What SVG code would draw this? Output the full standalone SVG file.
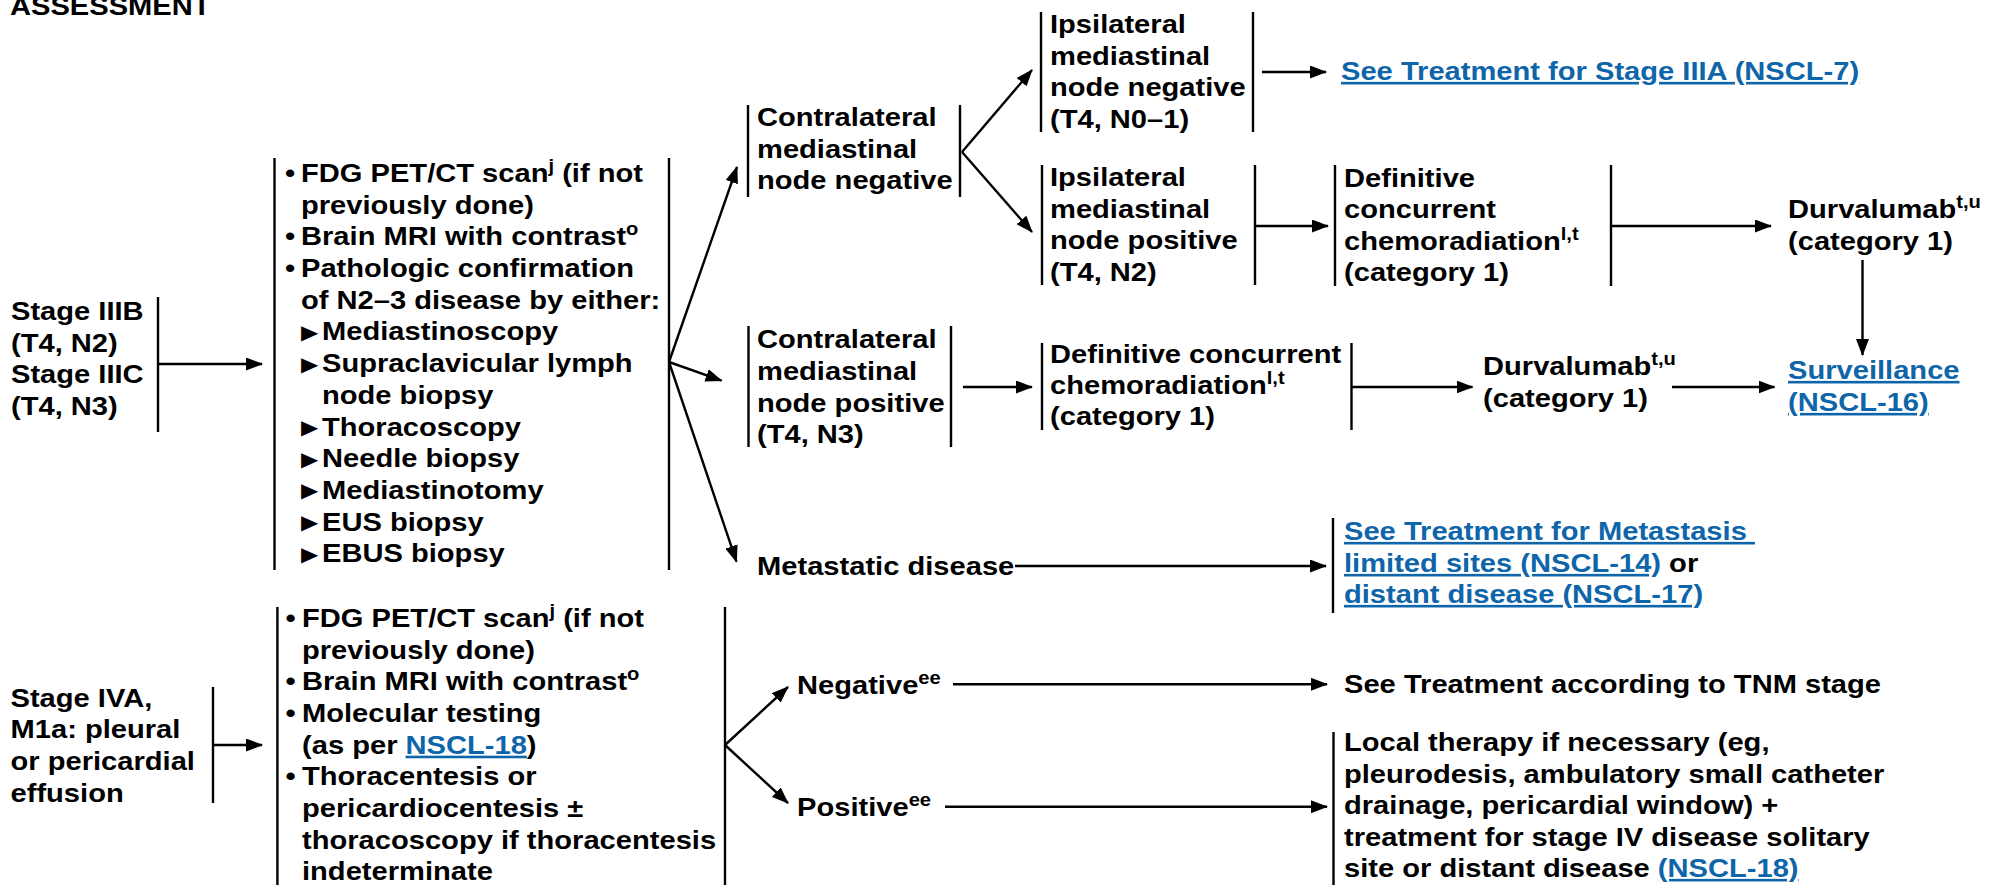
<svg xmlns="http://www.w3.org/2000/svg" width="1990" height="885" viewBox="0 0 1990 885">
<style>
.t{font-family:"Liberation Sans",Arial,Helvetica,sans-serif;font-weight:bold;font-size:26px;fill:#000}
.lk{fill:#0e65a9;text-decoration:underline}
.sup{font-size:18px}
.tri{font-family:"DejaVu Sans",sans-serif;font-size:20px}
.br{stroke:#000;stroke-width:2.4;fill:none}
.cn{stroke:#000;stroke-width:2.4;fill:none;marker-end:url(#ah)}
</style>
<defs>
<marker id="ah" markerUnits="userSpaceOnUse" markerWidth="17" markerHeight="13" refX="16" refY="6.5" orient="auto">
<path d="M0,0 L17,6.5 L0,13 z" fill="#000"/>
</marker>
</defs>
<rect width="1990" height="885" fill="#fff"/>

<g id="header">
<text class="t" transform="translate(10 0) scale(1.12 1)"><tspan x="0" y="15">ASSESSMENT</tspan></text>
</g>

<g id="stage3">
<text class="t" transform="translate(11 0) scale(1.12 1)"><tspan x="0" y="320">Stage IIIB</tspan><tspan x="0" y="351.7">(T4, N2)</tspan><tspan x="0" y="383.4">Stage IIIC</tspan><tspan x="0" y="415">(T4, N3)</tspan></text>
<line class="br" x1="158" y1="297" x2="158" y2="432"/>
</g>

<g id="workup1">
<line class="br" x1="274.5" y1="158" x2="274.5" y2="570"/>
<line class="br" x1="669" y1="158" x2="669" y2="570"/>
<text class="t" transform="translate(301 0) scale(1.12 1)">
<tspan x="-14.3" y="182">•</tspan><tspan x="0">FDG PET/CT scan</tspan><tspan class="sup" dy="-10">j</tspan><tspan dy="10"> (if not</tspan>
<tspan x="0" y="213.7">previously done)</tspan>
<tspan x="-14.3" y="245.4">•</tspan><tspan x="0">Brain MRI with contrast</tspan><tspan class="sup" dy="-10">o</tspan>
<tspan x="-14.3" y="277">•</tspan><tspan x="0">Pathologic confirmation</tspan>
<tspan x="0" y="308.8">of N2–3 disease by either:</tspan>
<tspan x="0" y="339" class="tri">▶</tspan><tspan x="18.75" y="340.5">Mediastinoscopy</tspan>
<tspan x="0" y="370.7" class="tri">▶</tspan><tspan x="18.75" y="372.2">Supraclavicular lymph</tspan>
<tspan x="18.75" y="404">node biopsy</tspan>
<tspan x="0" y="434.1" class="tri">▶</tspan><tspan x="18.75" y="435.6">Thoracoscopy</tspan>
<tspan x="0" y="465.8" class="tri">▶</tspan><tspan x="18.75" y="467.3">Needle biopsy</tspan>
<tspan x="0" y="497.5" class="tri">▶</tspan><tspan x="18.75" y="499">Mediastinotomy</tspan>
<tspan x="0" y="529.2" class="tri">▶</tspan><tspan x="18.75" y="530.7">EUS biopsy</tspan>
<tspan x="0" y="560.9" class="tri">▶</tspan><tspan x="18.75" y="562.4">EBUS biopsy</tspan>
</text>
</g>

<g id="cmnn">
<line class="br" x1="748" y1="105" x2="748" y2="197"/>
<line class="br" x1="960" y1="105" x2="960" y2="197"/>
<text class="t" transform="translate(757 0) scale(1.12 1)"><tspan x="0" y="126">Contralateral</tspan><tspan x="0" y="157.7">mediastinal</tspan><tspan x="0" y="189.4">node negative</tspan></text>
</g>

<g id="imnn">
<line class="br" x1="1041" y1="12" x2="1041" y2="132"/>
<line class="br" x1="1253" y1="12" x2="1253" y2="132"/>
<text class="t" transform="translate(1050 0) scale(1.12 1)"><tspan x="0" y="33">Ipsilateral</tspan><tspan x="0" y="64.7">mediastinal</tspan><tspan x="0" y="96.4">node negative</tspan><tspan x="0" y="128">(T4, N0–1)</tspan></text>
</g>

<g id="stage3a">
<text class="t lk" transform="translate(1341 0) scale(1.12 1)"><tspan x="0" y="80">See Treatment for Stage IIIA (NSCL-7)</tspan></text>
</g>

<g id="imnp">
<line class="br" x1="1042" y1="165" x2="1042" y2="285"/>
<line class="br" x1="1255" y1="165" x2="1255" y2="285"/>
<text class="t" transform="translate(1050 0) scale(1.12 1)"><tspan x="0" y="186.5">Ipsilateral</tspan><tspan x="0" y="218">mediastinal</tspan><tspan x="0" y="249.5">node positive</tspan><tspan x="0" y="281">(T4, N2)</tspan></text>
</g>

<g id="dcc1">
<line class="br" x1="1335" y1="165" x2="1335" y2="286"/>
<line class="br" x1="1611" y1="165" x2="1611" y2="286"/>
<text class="t" transform="translate(1344 0) scale(1.12 1)"><tspan x="0" y="187">Definitive</tspan><tspan x="0" y="218.5">concurrent</tspan><tspan x="0" y="250">chemoradiation</tspan><tspan class="sup" dy="-10">l,t</tspan><tspan x="0" y="281">(category 1)</tspan></text>
</g>

<g id="durva1">
<text class="t" transform="translate(1788 0) scale(1.12 1)"><tspan x="0" y="218">Durvalumab</tspan><tspan class="sup" dy="-10">t,u</tspan><tspan x="0" y="250">(category 1)</tspan></text>
</g>

<g id="cmnp">
<line class="br" x1="748.5" y1="326" x2="748.5" y2="447"/>
<line class="br" x1="951" y1="326" x2="951" y2="447"/>
<text class="t" transform="translate(757 0) scale(1.12 1)"><tspan x="0" y="348">Contralateral</tspan><tspan x="0" y="380">mediastinal</tspan><tspan x="0" y="412">node positive</tspan><tspan x="0" y="443">(T4, N3)</tspan></text>
</g>

<g id="dcc2">
<line class="br" x1="1042" y1="343" x2="1042" y2="430"/>
<line class="br" x1="1351.5" y1="343" x2="1351.5" y2="430"/>
<text class="t" transform="translate(1050 0) scale(1.12 1)"><tspan x="0" y="363">Definitive concurrent</tspan><tspan x="0" y="394">chemoradiation</tspan><tspan class="sup" dy="-10">l,t</tspan><tspan x="0" y="425">(category 1)</tspan></text>
</g>

<g id="durva2">
<text class="t" transform="translate(1483 0) scale(1.12 1)"><tspan x="0" y="375">Durvalumab</tspan><tspan class="sup" dy="-10">t,u</tspan><tspan x="0" y="407">(category 1)</tspan></text>
</g>

<g id="surveillance">
<text class="t lk" transform="translate(1788 0) scale(1.12 1)"><tspan x="0" y="379">Surveillance</tspan><tspan x="0" y="411">(NSCL-16)</tspan></text>
</g>

<g id="metastatic">
<text class="t" transform="translate(757 0) scale(1.12 1)"><tspan x="0" y="575">Metastatic disease</tspan></text>
</g>

<g id="metatx">
<line class="br" x1="1333" y1="518" x2="1333" y2="613"/>
<text class="t" transform="translate(1344 0) scale(1.12 1)"><tspan x="0" y="540" class="lk">See Treatment for Metastasis </tspan><tspan x="0" y="572" class="lk">limited sites (NSCL-14)</tspan><tspan> or</tspan><tspan x="0" y="603" class="lk">distant disease (NSCL-17)</tspan></text>
</g>

<g id="stage4a">
<text class="t" transform="translate(10.5 0) scale(1.12 1)"><tspan x="0" y="707">Stage IVA,</tspan><tspan x="0" y="738.5">M1a: pleural</tspan><tspan x="0" y="770">or pericardial</tspan><tspan x="0" y="801.7">effusion</tspan></text>
<line class="br" x1="213" y1="687" x2="213" y2="803"/>
</g>

<g id="workup2">
<line class="br" x1="277.4" y1="607" x2="277.4" y2="885"/>
<line class="br" x1="725" y1="607" x2="725" y2="885"/>
<text class="t" transform="translate(302 0) scale(1.12 1)">
<tspan x="-14.8" y="627">•</tspan><tspan x="0">FDG PET/CT scan</tspan><tspan class="sup" dy="-10">j</tspan><tspan dy="10"> (if not</tspan>
<tspan x="0" y="658.7">previously done)</tspan>
<tspan x="-14.8" y="690.4">•</tspan><tspan x="0">Brain MRI with contrast</tspan><tspan class="sup" dy="-10">o</tspan>
<tspan x="-14.8" y="722">•</tspan><tspan x="0">Molecular testing</tspan>
<tspan x="0" y="753.8">(as per </tspan><tspan class="lk">NSCL-18</tspan><tspan>)</tspan>
<tspan x="-14.8" y="785.5">•</tspan><tspan x="0">Thoracentesis or</tspan>
<tspan x="0" y="817">pericardiocentesis ±</tspan>
<tspan x="0" y="849">thoracoscopy if thoracentesis</tspan>
<tspan x="0" y="880.5">indeterminate</tspan>
</text>
</g>

<g id="negative">
<text class="t" transform="translate(797 0) scale(1.12 1)"><tspan x="0" y="694">Negative</tspan><tspan class="sup" dy="-10">ee</tspan></text>
</g>

<g id="positive">
<text class="t" transform="translate(797 0) scale(1.12 1)"><tspan x="0" y="816">Positive</tspan><tspan class="sup" dy="-10">ee</tspan></text>
</g>

<g id="tnm">
<text class="t" transform="translate(1344 0) scale(1.12 1)"><tspan x="0" y="693">See Treatment according to TNM stage</tspan></text>
</g>

<g id="localtx">
<line class="br" x1="1333.5" y1="732" x2="1333.5" y2="885"/>
<text class="t" transform="translate(1344 0) scale(1.12 1)"><tspan x="0" y="751.5">Local therapy if necessary (eg,</tspan><tspan x="0" y="783">pleurodesis, ambulatory small catheter</tspan><tspan x="0" y="814.5">drainage, pericardial window) +</tspan><tspan x="0" y="846">treatment for stage IV disease solitary</tspan><tspan x="0" y="877">site or distant disease </tspan><tspan class="lk">(NSCL-18)</tspan></text>
</g>

<g id="connectors">
<line class="cn" x1="158" y1="364" x2="262" y2="364"/>
<line class="cn" x1="669" y1="362" x2="737" y2="167"/>
<line class="cn" x1="669" y1="362" x2="721.6" y2="380.7"/>
<line class="cn" x1="669" y1="362" x2="736.5" y2="561.7"/>
<line class="cn" x1="962" y1="152" x2="1032" y2="70"/>
<line class="cn" x1="962" y1="152" x2="1032" y2="232"/>
<line class="cn" x1="1262" y1="72" x2="1326" y2="72"/>
<line class="cn" x1="1255" y1="226" x2="1328" y2="226"/>
<line class="cn" x1="1611" y1="226" x2="1771" y2="226"/>
<line class="cn" x1="1862.5" y1="260" x2="1862.5" y2="355"/>
<line class="cn" x1="963" y1="387" x2="1032" y2="387"/>
<line class="cn" x1="1351.5" y1="387" x2="1472.5" y2="387"/>
<line class="cn" x1="1672" y1="387" x2="1774.5" y2="387"/>
<line class="cn" x1="1015" y1="566" x2="1326" y2="566"/>
<line class="cn" x1="213" y1="745" x2="262" y2="745"/>
<line class="cn" x1="725" y1="745" x2="788" y2="687"/>
<line class="cn" x1="725" y1="745" x2="788" y2="803"/>
<line class="cn" x1="953" y1="684.3" x2="1327" y2="684.3"/>
<line class="cn" x1="945" y1="806.7" x2="1327" y2="806.7"/>
</g>
</svg>
